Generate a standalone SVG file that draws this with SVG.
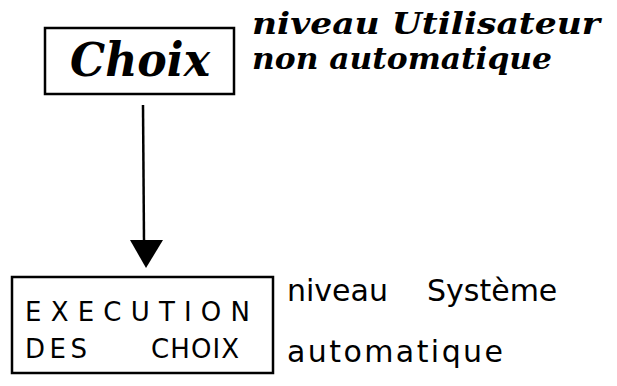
<svg xmlns="http://www.w3.org/2000/svg" width="617" height="386" viewBox="0 0 617 386">
<style>
.box{fill:none;stroke:#000;stroke-width:2.5}
.hand{font-family:"DejaVu Serif","Liberation Serif",serif;font-style:italic;font-weight:bold;fill:#000}
.block{font-family:"DejaVu Sans","Liberation Sans",sans-serif;fill:#000}
</style>
<rect width="617" height="386" fill="#fff"/>
<g id="choix">
<rect class="box" x="45" y="28" width="189" height="66"/>
<text class="hand" x="140" y="76" font-size="46" text-anchor="middle" textLength="140" lengthAdjust="spacingAndGlyphs">Choix</text>
</g>
<g id="label-utilisateur">
<text class="hand" x="252" y="34" font-size="30" textLength="348" lengthAdjust="spacingAndGlyphs">niveau Utilisateur</text>
<text class="hand" x="252" y="69" font-size="30" textLength="300" lengthAdjust="spacingAndGlyphs">non automatique</text>
</g>
<g id="execution">
<rect class="box" x="12" y="277" width="261" height="96"/>
<text class="block" x="25" y="321" font-size="26" textLength="225" lengthAdjust="spacing">EXECUTION</text>
<text class="block" x="25" y="358" font-size="26" textLength="62" lengthAdjust="spacing">DES</text>
<text class="block" x="151" y="358" font-size="26" textLength="88" lengthAdjust="spacing">CHOIX</text>
</g>
<g id="label-systeme">
<text class="block" x="287" y="301" font-size="30"><tspan>niveau</tspan><tspan x="427">Système</tspan></text>
<text class="block" x="287" y="362" font-size="30" textLength="216" lengthAdjust="spacing">automatique</text>
</g>
<g id="connectors">
<line x1="143" y1="105" x2="144" y2="242" stroke="#000" stroke-width="2.5"/>
<polygon points="130,240 163,240 146,268" fill="#000"/>
</g>
</svg>
